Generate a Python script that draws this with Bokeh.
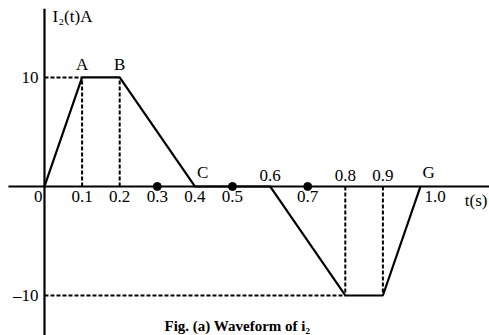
from bokeh.plotting import figure
from bokeh.models import ColumnDataSource
from bokeh.core.properties import value
from bokeh.embed import file_html
from bokeh.resources import INLINE

# Waveform corner points
t_pts = [0.0, 0.1, 0.2, 0.4, 0.6, 0.8, 0.9, 1.0]
i_pts = [0, 10, 10, 0, 0, -10, -10, 0]

# Marker dots on the time axis
dot_t = [0.3, 0.5, 0.7]

# Time tick labels: value, drawn below (True) or above (False) the axis
tick_vals = [0.1, 0.2, 0.3, 0.4, 0.5, 0.6, 0.7, 0.8, 0.9]
tick_text = ["0.1", "0.2", "0.3", "0.4", "0.5", "0.6", "0.7", "0.8", "0.9"]
tick_below = [True, True, True, True, True, False, True, False, False]

# Point names
pt_names = ["A", "B", "C", "G"]
pt_t = [0.1, 0.2, 0.4, 1.0]
pt_i = [10, 10, 0, 0]

FONT = value("Liberation Serif")
FS = "17px"

X0, X1 = -0.117, 1.1835
Y0, Y1 = -13.67, 17.06

p = figure(width=489, height=335, x_range=(X0, X1), y_range=(Y0, Y1),
           x_axis_type=None, y_axis_type=None, toolbar_location=None,
           output_backend="svg", min_border=0)
p.outline_line_color = None
p.grid.visible = False

# Axes
p.segment(x0=[-0.096], y0=[0], x1=[1.19], y1=[0], line_color="black", line_width=2.2)
p.segment(x0=[0], y0=[16.3], x1=[0], y1=[-14], line_color="black", line_width=2.2)

# Dashed guides
dash = "4 2"
p.segment(x0=[0, 0, t_pts[1], t_pts[2], t_pts[5], t_pts[6]],
          y0=[i_pts[1], i_pts[5], 0, 0, 0, 0],
          x1=[t_pts[1], t_pts[5], t_pts[1], t_pts[2], t_pts[5], t_pts[6]],
          y1=[i_pts[1], i_pts[5], i_pts[1], i_pts[2], i_pts[5], i_pts[6]],
          line_color="black", line_width=2, line_dash=dash)

# Waveform
p.line(t_pts, i_pts, line_color="black", line_width=2.2)

# Dots
p.scatter(dot_t, [0] * len(dot_t), size=8, color="black")

# Tick labels
below_src = ColumnDataSource(dict(x=[v for v, b in zip(tick_vals, tick_below) if b],
                                  y=[0] * sum(tick_below),
                                  t=[s for s, b in zip(tick_text, tick_below) if b]))
above_src = ColumnDataSource(dict(x=[v for v, b in zip(tick_vals, tick_below) if not b],
                                  y=[0] * (len(tick_below) - sum(tick_below)),
                                  t=[s for s, b in zip(tick_text, tick_below) if not b]))
p.text(x="x", y="y", text="t", source=below_src, text_font=FONT, text_font_size=FS,
       text_align="center", text_baseline="top", y_offset=5, text_color="black")
p.text(x="x", y="y", text="t", source=above_src, text_font=FONT, text_font_size=FS,
       text_align="center", text_baseline="bottom", y_offset=-5, text_color="black")

# Origin, end of time axis and unit
p.text(x=[0], y=[0], text=["0"], text_font=FONT, text_font_size=FS,
       text_align="right", text_baseline="top", x_offset=-2, y_offset=5)
p.text(x=[1.0], y=[0], text=["1.0"], text_font=FONT, text_font_size=FS,
       text_align="left", text_baseline="top", x_offset=4, y_offset=5)
p.text(x=[X1], y=[0], text=["t(s)"], text_font=FONT, text_font_size=FS,
       text_align="right", text_baseline="top", x_offset=-2, y_offset=5)

# Current levels
p.text(x=[0, 0], y=[10, -10], text=["10", "\u201310"], text_font=FONT,
       text_font_size=FS, text_align="right", text_baseline="middle", x_offset=-6)

# Vertical axis title
p.text(x=[0], y=[15.6], text=["I\u2082(t)A"], text_font=FONT, text_font_size=FS,
       text_align="left", text_baseline="middle", x_offset=8)

# Point names
p.text(x=pt_t[:2], y=pt_i[:2], text=pt_names[:2], text_font=FONT, text_font_size=FS,
       text_align="center", text_baseline="bottom", y_offset=-3)
p.text(x=pt_t[2:], y=pt_i[2:], text=pt_names[2:], text_font=FONT, text_font_size=FS,
       text_align="left", text_baseline="bottom", x_offset=2, y_offset=-4)

# Caption
p.text(x=[0.513], y=[Y0], text=["Fig. (a) Waveform of i\u2082"], text_font=FONT,
       text_font_size="15px", text_font_style="bold", text_align="center",
       text_baseline="bottom", y_offset=-2)

open("out.html", "w").write(file_html(p, INLINE))
